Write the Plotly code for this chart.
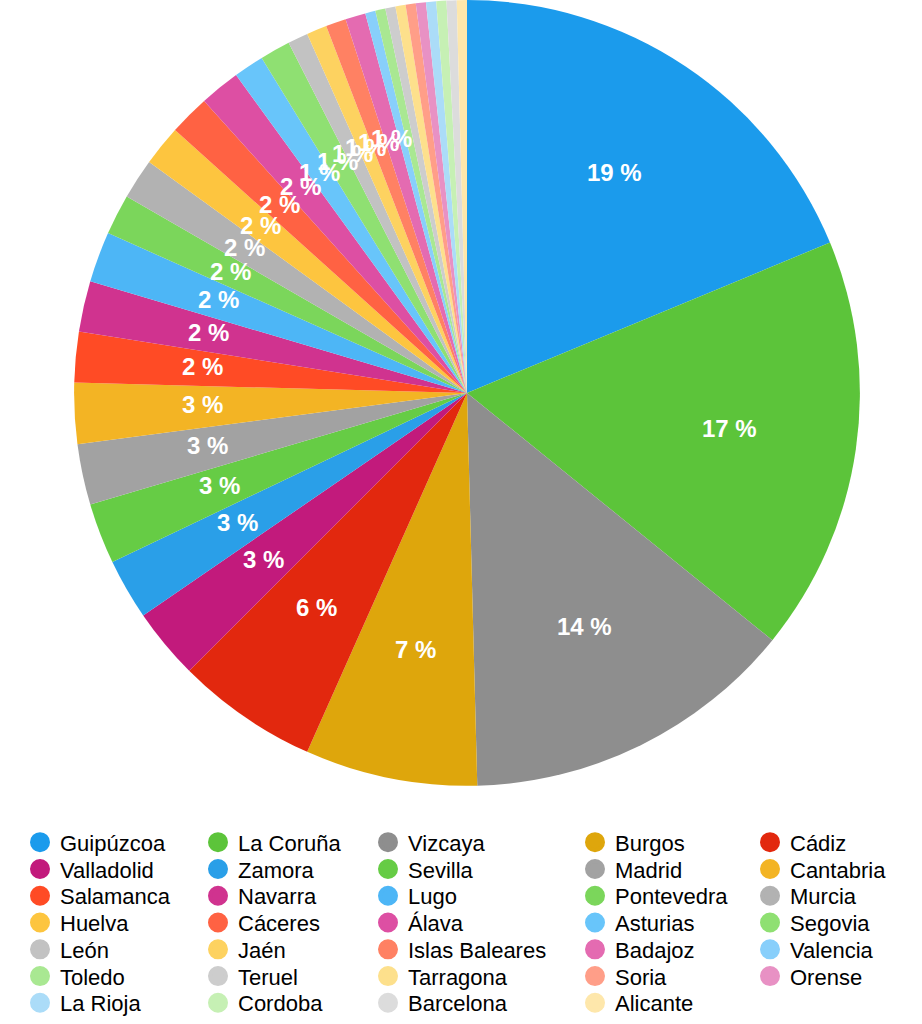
import math
import plotly.graph_objects as go

# ---- data ----
provinces = [
    "Guipúzcoa", "La Coruña", "Vizcaya", "Burgos", "Cádiz",
    "Valladolid", "Zamora", "Sevilla", "Madrid", "Cantabria",
    "Salamanca", "Navarra", "Lugo", "Pontevedra", "Murcia",
    "Huelva", "Cáceres", "Álava", "Asturias", "Segovia",
    "León", "Jaén", "Islas Baleares", "Badajoz", "Valencia",
    "Toledo", "Teruel", "Tarragona", "Soria", "Orense",
    "La Rioja", "Cordoba", "Barcelona", "Alicante",
]
counts = [
    45, 41, 33, 17, 14,
    7, 6, 6, 6, 6,
    5, 5, 5, 4, 4,
    4, 4, 4, 3, 3,
    2, 2, 2, 2, 1,
    1, 1, 1, 1, 1,
    1, 1, 1, 1,
]
colors = [
    "#1b9bec", "#5cc43a", "#8e8e8e", "#dea60c", "#e2280e",
    "#c21a7c", "#2a9fe8", "#66cc45", "#a2a2a2", "#f3b424",
    "#ff4b25", "#d0338f", "#4db6f6", "#7bd65b", "#b2b2b2",
    "#fdc53f", "#ff6243", "#dd4fa3", "#68c5fa", "#8fe072",
    "#c2c2c2", "#fdd260", "#ff8163", "#e46bb1", "#88cffb",
    "#a9e892", "#cdcdcd", "#fde08c", "#ff9e88", "#e891c4",
    "#abdcf8", "#c6f0b4", "#dcdcdc", "#fee7ab",
]

# ---- layout constants ----
W, H = 922, 1024
CX, CY, R = 467, 396, 396          # pie domain centre / half-size in px (from top-left)
LABEL_R = 0.675 * 393
col_circle_x = [40, 218, 388, 595, 770]
row_y = [849, 876, 903, 930, 957, 984, 1011]

fig = go.Figure()
fig.add_trace(go.Pie(
    labels=provinces,
    values=counts,
    marker=dict(colors=colors, line=dict(width=0)),
    sort=False,
    direction="clockwise",
    rotation=0,
    textinfo="none",
    hoverinfo="label+value+percent",
    showlegend=False,
    domain=dict(x=[(CX - R) / W, (CX + R) / W],
                y=[(H - CY - R) / H, min(1.0, (H - CY + R) / H)]),
))

# percentage labels, positioned from the cumulative values
total = sum(counts)
cum = 0
annotations = []
for name, v in zip(provinces, counts):
    pct = v / total * 100
    mid = (cum + v / 2) / total * 2 * math.pi
    cum += v
    rounded = math.floor(pct + 0.5 + 1e-9)
    if rounded < 1:
        continue
    px = CX + LABEL_R * math.sin(mid)
    py = CY - 2 - LABEL_R * math.cos(mid)
    annotations.append(dict(
        x=px / W, y=1 - py / H, xref="paper", yref="paper",
        text=f"{rounded} %", showarrow=False,
        font=dict(family="Liberation Sans, Arial, sans-serif", size=24,
                  color="white", weight="bold"),
        xanchor="center", yanchor="middle",
    ))

# legend: one legend per entry, arranged row-major in 5 columns
legends = {}
for i, (name, c) in enumerate(zip(provinces, colors)):
    key = "legend" if i == 0 else f"legend{i + 1}"
    r, col = divmod(i, 5)
    fig.add_trace(go.Scatter(
        x=[None], y=[None], mode="markers", name=name,
        marker=dict(size=16, color=c, symbol="circle", line=dict(width=4, color=c)),
        legend=key, showlegend=True, hoverinfo="skip",
    ))
    legends[key] = dict(
        x=(col_circle_x[col] - 20) / W, y=1 - row_y[r] / H,
        xanchor="left", yanchor="middle",
        bgcolor="rgba(0,0,0,0)", borderwidth=0,
        font=dict(family="Liberation Sans, Arial, sans-serif", size=22, color="#000"),
    )

fig.update_layout(
    width=W, height=H,
    margin=dict(l=0, r=0, t=0, b=0),
    paper_bgcolor="white", plot_bgcolor="white",
    xaxis=dict(visible=False), yaxis=dict(visible=False),
    annotations=annotations,
    **legends,
)

fig.write_html("out.html", config={"displayModeBar": False},
               post_script="document.body.style.margin='0';")
